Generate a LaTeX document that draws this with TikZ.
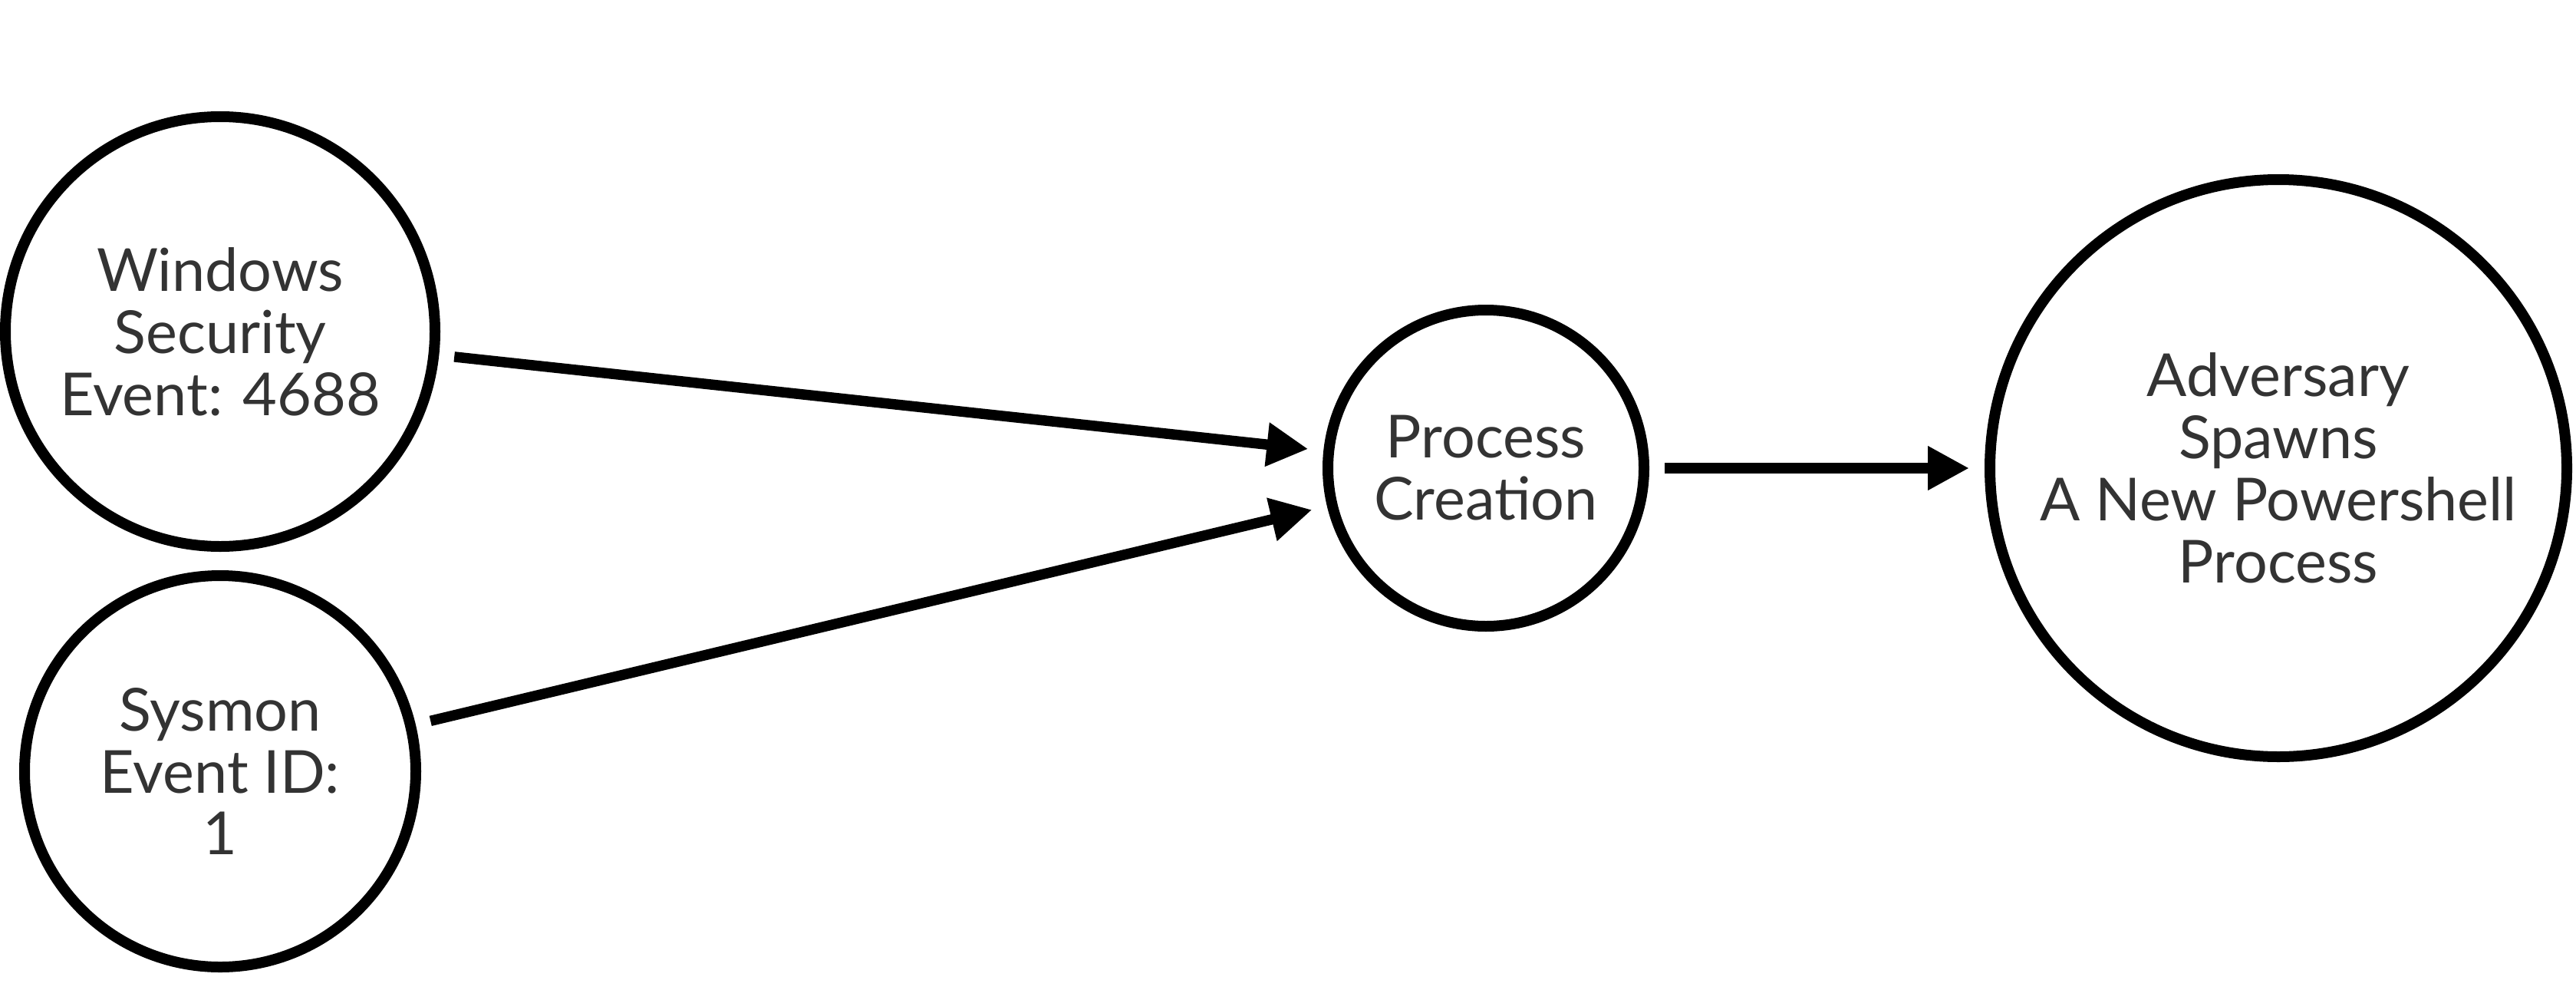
\documentclass[tikz,border=0pt]{standalone}
\usepackage{fontspec}
\setmainfont{Lato}
\usetikzlibrary{arrows.meta}
\definecolor{txt}{HTML}{333333}
\begin{document}
\begin{tikzpicture}[x=1cm,y=-1cm,
  evt/.style={circle,draw=black,line width=0.14cm,inner sep=0pt,align=center,
    text=txt,font=\fontsize{22}{23}\selectfont},
  conn/.style={line width=0.135cm,-{Triangle[length=0.54cm,width=0.54cm]},
    shorten >=0.2cm,shorten <=0.2cm}]
\useasboundingbox (0,0) rectangle (33.58,13.02);
\node[evt,minimum size=5.60cm] (win) at (2.87,4.32) {Windows\\Security\\Event: 4688};
\node[evt,minimum size=5.10cm] (sys) at (2.87,10.05) {Sysmon\\Event ID:\\1};
\node[evt,minimum size=4.12cm] (proc) at (19.37,6.10) {Process\\Creation};
\node[evt,minimum size=7.52cm] (adv) at (29.70,6.10) {Adversary\\Spawns\\A New Powershell\\Process};
\draw[conn] (win) -- (proc);
\draw[conn] (sys) -- (proc);
\draw[conn] (proc) -- (adv);
\end{tikzpicture}
\end{document}
